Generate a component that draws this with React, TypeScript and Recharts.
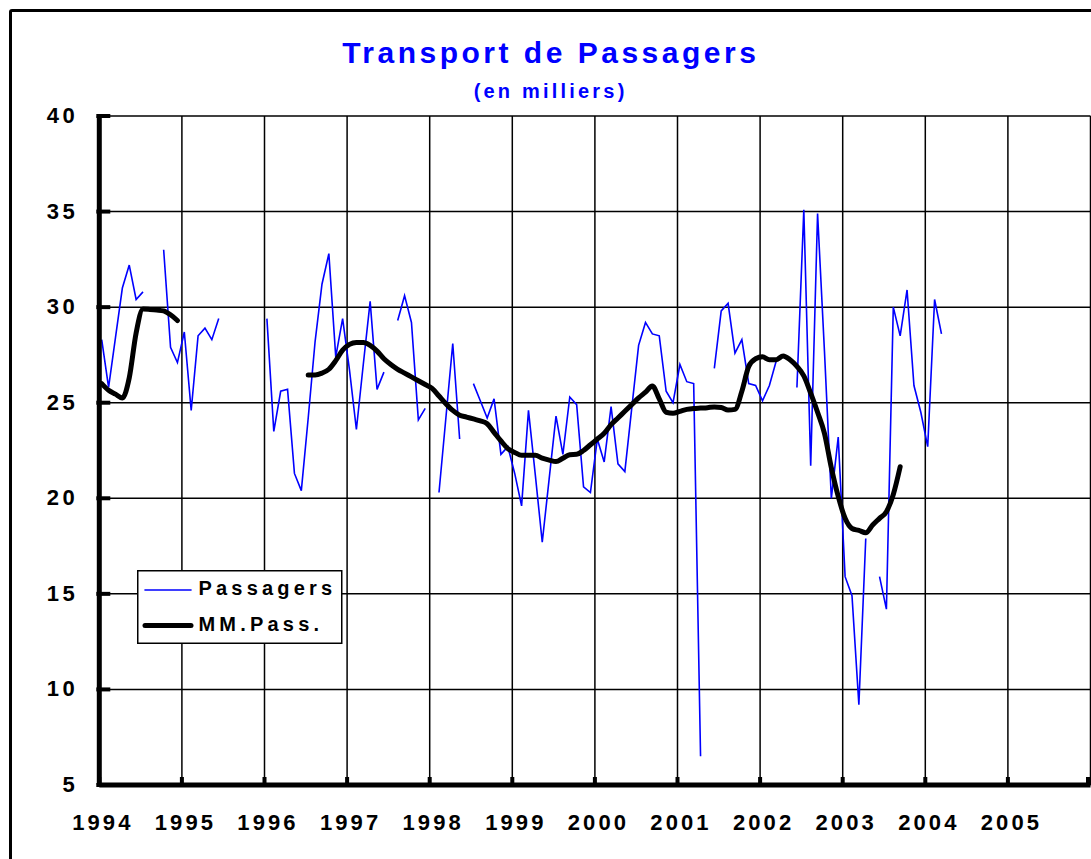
import { LineChart, Line, XAxis, YAxis, CartesianGrid, Legend } from 'recharts';

// monthly values, Jan..Dec, null = no data
const pass1994 = [28.3, 25.8, 28.4, 31.0, 32.2, 30.4, 30.8, null, null, 33.0, 27.9, 27.1];
const pass1995 = [28.7, 24.6, 28.5, 28.9, 28.3, 29.4, null, null, null, null, null, null];
const pass1996 = [29.4, 23.5, 25.6, 25.7, 21.3, 20.4, 24.2, 28.2, 31.2, 32.8, 27.4, 29.4];
const pass1997 = [26.7, 23.6, 27.0, 30.3, 25.7, 26.6, null, 29.3, 30.6, 29.2, 24.1, 24.7];
const pass1998 = [null, 20.3, 24.2, 28.1, 23.1, null, 26.0, 25.1, 24.2, 25.2, 22.3, 22.7];
const pass1999 = [21.3, 19.6, 24.6, 21.2, 17.7, 21.0, 24.3, 22.3, 25.3, 24.9, 20.6, 20.3];
const pass2000 = [23.1, 21.9, 24.8, 21.8, 21.4, 24.7, 28.0, 29.2, 28.6, 28.5, 25.6, 25.0];
const pass2001 = [27.0, 26.1, 26.0, 6.5, null, 26.8, 29.8, 30.2, 27.6, 28.3, 26.0, 25.9];
const pass2002 = [25.1, 25.9, 27.2, 27.4, null, 25.8, 35.1, 21.7, 34.9, 27.7, 20.0, 23.2];
const pass2003 = [15.9, 14.9, 9.2, 17.9, null, 15.9, 14.2, 30.0, 28.5, 30.9, 25.9, 24.5];
const pass2004 = [22.7, 30.4, 28.6];

const mm1994 = [26.0, 25.65, 25.45, 25.25, 26.3, 28.65, 29.9, 29.88, 29.85, 29.8, 29.6, 29.3];
const mm1995 = [null, null, null, null, null, null, null, null, null, null, null, null];
const mm1996 = [null, null, null, null, null, null, 26.45, 26.45, 26.55, 26.75, 27.2, 27.75];
const mm1997 = [28.05, 28.15, 28.15, 28.0, 27.7, 27.3, 27.0, 26.75, 26.55, 26.35, 26.15, 25.95];
const mm1998 = [25.75, 25.35, 24.95, 24.6, 24.35, 24.25, 24.15, 24.05, 23.9, 23.45, 23.0, 22.6];
const mm1999 = [22.4, 22.25, 22.25, 22.25, 22.1, 22.0, 21.92, 22.1, 22.28, 22.3, 22.5, 22.8];
const mm2000 = [23.1, 23.4, 23.85, 24.2, 24.55, 24.9, 25.25, 25.55, 25.87, 25.2, 24.5, 24.45];
const mm2001 = [24.55, 24.65, 24.7, 24.72, 24.74, 24.78, 24.75, 24.62, 24.65, 25.6, 26.9, 27.3];
const mm2002 = [27.4, 27.25, 27.25, 27.45, 27.25, 26.9, 26.4, 25.5, 24.5, 23.4, 21.6, 20.1];
const mm2003 = [18.95, 18.42, 18.32, 18.2, 18.6, 18.95, 19.3, 20.2, 21.65];

const firstYear = 1994;
const yearTicks = [0, 12, 24, 36, 48, 60, 72, 84, 96, 108, 120, 132, 144];
const valueTicks = [5, 10, 15, 20, 25, 30, 35, 40];
const seriesOrder = ['pass', 'mm'];

const passagers = [
  ...pass1994, ...pass1995, ...pass1996, ...pass1997, ...pass1998, ...pass1999,
  ...pass2000, ...pass2001, ...pass2002, ...pass2003, ...pass2004,
];
const mmPass = [
  ...mm1994, ...mm1995, ...mm1996, ...mm1997, ...mm1998, ...mm1999,
  ...mm2000, ...mm2001, ...mm2002, ...mm2003,
];

const data = passagers.map((v, i) => ({
  t: i + 0.35,
  pass: v,
  mm: mmPass[i] ?? null,
}));

const FONT = '"Liberation Sans", Arial, sans-serif';

function YTick({ x, y, payload }: any) {
  return (
    <g>
      <line x1={x - 3} x2={x + 11} y1={y} y2={y} stroke="#000" strokeWidth={4} />
      <text x={x - 21} y={y + 7} textAnchor="end" fontSize={22} fontWeight="bold"
        letterSpacing={3.5} fill="#000" fontFamily={FONT}>
        {payload.value}
      </text>
    </g>
  );
}

function XTick({ x, y, payload }: any) {
  const v = payload.value;
  const label = v >= 144 ? '' : String(firstYear + v / 12);
  return (
    <g>
      <rect x={x - 2} y={y - 8} width={4} height={8} fill="#000" />
      <text x={x + 3.5} y={y + 45} textAnchor="middle" fontSize={22} fontWeight="bold"
        letterSpacing={3.1} fill="#000" fontFamily={FONT}>
        {label}
      </text>
    </g>
  );
}

function LegendBox({ payload }: any) {
  const items = [...(payload || [])].sort(
    (a: any, b: any) => seriesOrder.indexOf(a.dataKey) - seriesOrder.indexOf(b.dataKey),
  );
  return (
    <svg width={206} height={75} style={{ display: 'block' }}>
      <rect x={0.75} y={0.75} width={204} height={72.5} fill="#fff" stroke="#000" strokeWidth={1.5} />
      {items.map((p: any, i: number) => (
        <g key={p.value}>
          <line x1={8} x2={54} y1={20 + i * 35.5} y2={20 + i * 35.5} stroke={p.color}
            strokeWidth={p.dataKey === 'pass' ? 1.6 : 5} strokeLinecap="round" />
          <text x={61.5} y={25 + i * 35.5} fontSize={20} fontWeight="bold" letterSpacing={4.2}
            fill="#000" fontFamily={FONT}>
            {p.value}
          </text>
        </g>
      ))}
    </svg>
  );
}

export default function App() {
  return (
    <div style={{ position: 'fixed', left: 0, top: 0, width: 1091, height: 859, overflow: 'hidden', background: '#fff', fontFamily: FONT }}>
      <div style={{ position: 'absolute', left: 0, top: 0 }}>
        <LineChart width={1100} height={859} data={data} margin={{ top: 116, right: 9.5, bottom: 14, left: 0 }}>
          <CartesianGrid stroke="#000" strokeWidth={1.5} />
          <XAxis type="number" dataKey="t" domain={[0, 144]} ticks={yearTicks} allowDataOverflow
            height={60} tick={<XTick />} tickLine={false} tickSize={0} tickMargin={0}
            axisLine={{ stroke: '#000', strokeWidth: 5 }} />
          <YAxis type="number" domain={[5, 40]} ticks={valueTicks} width={99.3}
            tick={<YTick />} tickLine={false} tickSize={0} tickMargin={0}
            axisLine={{ stroke: '#000', strokeWidth: 5 }} />
          <Line dataKey="pass" name="Passagers" type="linear" stroke="#0000ff" strokeWidth={1.6}
            dot={false} activeDot={false} connectNulls={false} isAnimationActive={false} />
          <Line dataKey="mm" name="MM.Pass." type="monotone" stroke="#000" strokeWidth={5}
            strokeLinecap="round" strokeLinejoin="round"
            dot={false} activeDot={false} connectNulls={false} isAnimationActive={false} />
          <Legend content={<LegendBox />} layout="horizontal" verticalAlign="middle" align="center"
            wrapperStyle={{ position: 'absolute', left: 137, top: 570, width: 206, height: 75 }} />
        </LineChart>
      </div>
      <div style={{ position: 'absolute', left: 9, top: 9, width: 1200, height: 1000, border: '3.5px solid #000', borderRadius: 3, pointerEvents: 'none' }} />
      <div style={{ position: 'absolute', left: 149, top: 38, width: 800, textAlign: 'center', color: '#0000ff', fontWeight: 'bold', fontSize: 30, lineHeight: '30px', letterSpacing: 3.5, paddingLeft: 3.5, boxSizing: 'border-box' }}>
        Transport de Passagers
      </div>
      <div style={{ position: 'absolute', left: 149, top: 80.5, width: 800, textAlign: 'center', color: '#0000ff', fontWeight: 'bold', fontSize: 20, lineHeight: '20px', letterSpacing: 3.2, paddingLeft: 3.2, boxSizing: 'border-box' }}>
        (en milliers)
      </div>
    </div>
  );
}
